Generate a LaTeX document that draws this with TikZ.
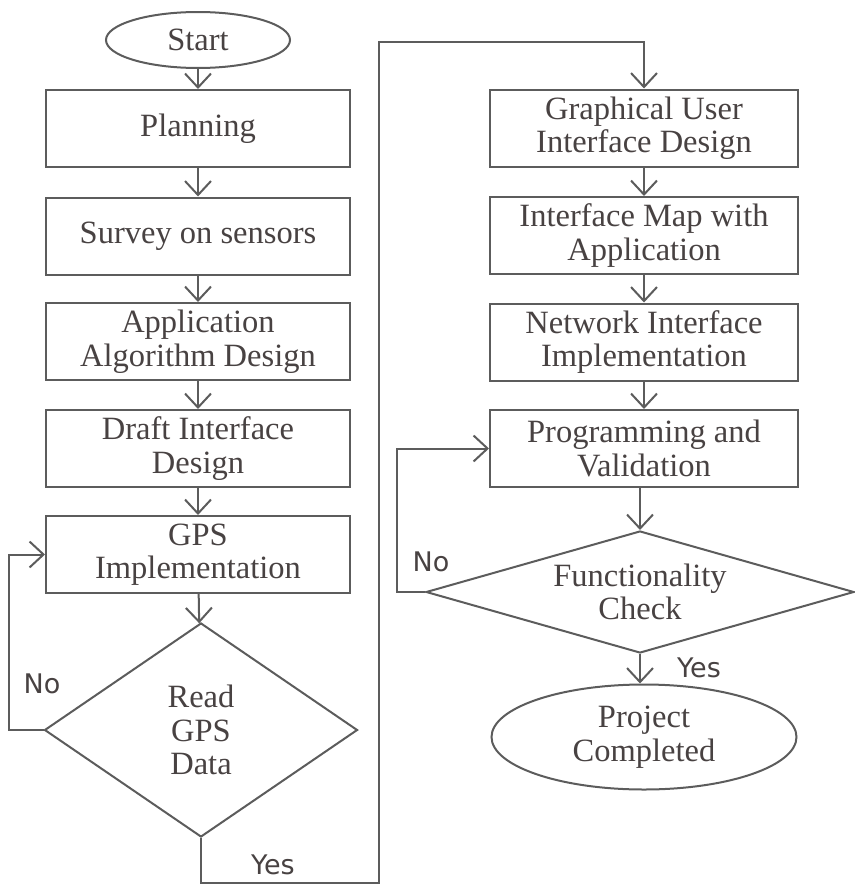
\documentclass[tikz,border=0pt]{standalone}
\usepackage{fontspec}
\setmainfont{Liberation Serif}
\newfontfamily\labelfont{DejaVu Sans}
\usetikzlibrary{shapes.geometric,arrows.meta}
\definecolor{ink}{RGB}{72,66,66}
\definecolor{edge}{RGB}{92,92,92}
\begin{document}
\begin{tikzpicture}[x=1pt,y=-1pt,
  every node/.style={text=ink, font=\fontsize{32.5}{33.5}\selectfont},
  stepbox/.style={draw=edge, line width=2pt, rectangle, minimum height=77pt,
                  align=center, inner sep=0pt},
  leftbox/.style={stepbox, minimum width=304pt},
  rightbox/.style={stepbox, minimum width=308pt},
  terminal/.style={draw=edge, line width=2pt, ellipse, inner sep=0pt, align=center},
  decision/.style={draw=edge, line width=2pt, diamond, inner sep=0pt, align=center},
  flow/.style={draw=edge, line width=2pt, -{Straight Barb[length=14pt,width=26pt]}},
  tag/.style={font=\labelfont\fontsize{27}{30}\selectfont, text=ink}
]
\useasboundingbox (0,0) rectangle (854,886);

% left column
\node[terminal, minimum width=184pt, minimum height=56pt] (start) at (198,40) {Start};
\node[leftbox] (plan)  at (198,128.5) {Planning};
\node[leftbox] (survey) at (198,236) {Survey on sensors};
\node[leftbox] (algo)  at (198,341.5) {Application\\Algorithm Design};
\node[leftbox] (draft) at (198,448.5) {Draft Interface\\Design};
\node[leftbox] (gps)   at (198,554.5) {GPS\\Implementation};
\node[decision, shape aspect=1.46, minimum width=313pt, minimum height=214pt] (read) at (201,730) {Read\\GPS\\Data};

% right column
\node[rightbox] (gui)  at (644,128) {Graphical User\\Interface Design};
\node[rightbox] (map)  at (644,235.5) {Interface Map with\\Application};
\node[rightbox] (net)  at (644,342) {Network Interface\\Implementation};
\node[rightbox] (prog) at (644,448.5) {Programming and\\Validation};
\node[decision, shape aspect=3.5, minimum width=428pt, minimum height=122pt] (check) at (640,592) {Functionality\\Check};
\node[terminal, minimum width=305pt, minimum height=105pt] (done) at (644,737) {Project\\Completed};

% bend points of the loops
\coordinate (noleft)  at (9,0);
\coordinate (noright) at (397,0);
\coordinate (yesbase) at (379,883);
\coordinate (yestop)  at (379,42);

% main flow
\draw[flow] (start) -- (plan);
\draw[flow] (plan) -- (survey);
\draw[flow] (survey) -- (algo);
\draw[flow] (algo) -- (draft);
\draw[flow] (draft) -- (gps);
\draw[flow] (gps) -- (read);
\draw[flow] (read.south) |- (yesbase) -- (yestop) -| (gui.north);
\draw[flow] (gui) -- (map);
\draw[flow] (map) -- (net);
\draw[flow] (net) -- (prog);
\draw[flow] (prog.south -| check.north) -- (check.north);
\draw[flow] (check.south) -- (done.north -| check.south);

% retry loops
\draw[flow] (read.west) -- (read.west -| noleft) |- (gps.west);
\draw[flow] (check.west) -- (check.west -| noright) |- (prog.west);

% branch labels
\node[tag] (noA)  at (42,684) {No};
\node[tag] (yesA) at (273,865) {Yes};
\node[tag] (noB)  at (431,562) {No};
\node[tag] (yesB) at (699,668) {Yes};
\end{tikzpicture}
\end{document}
